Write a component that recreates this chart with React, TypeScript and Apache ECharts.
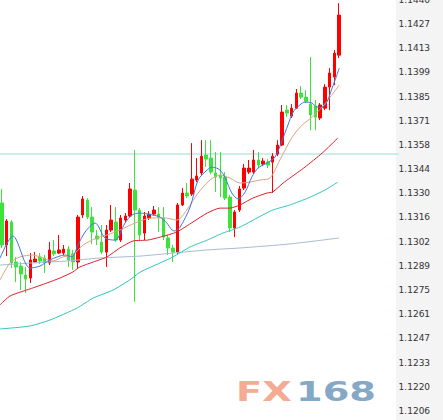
import React, { useEffect, useRef } from 'react';
import * as echarts from 'echarts';

const TICK_LABELS = ['1.1206','1.1220','1.1233','1.1247','1.1261','1.1275','1.1289','1.1302','1.1316','1.1330','1.1344','1.1358','1.1371','1.1385','1.1399','1.1413','1.1427','1.1440'];
const PRICE_MIN = 1.12061;
const PRICE_MAX = 1.14402;
const SLOT_COUNT = 84;
const PRICE_LINE = 1.13524;

const OPEN = [1.13245,1.13006,1.13137,1.12909,1.12886,1.12835,1.12818,1.12909,1.12938,1.12932,1.12904,1.12972,1.12960,1.12960,1.12983,1.12955,1.12909,1.13177,1.13262,1.13165,1.13057,1.13023,1.12966,1.13091,1.13137,1.13034,1.13148,1.13171,1.13319,1.13205,1.13074,1.13160,1.13182,1.13182,1.13160,1.13046,1.12989,1.12966,1.13234,1.13302,1.13296,1.13376,1.13416,1.13518,1.13501,1.13416,1.13404,1.13393,1.13279,1.13103,1.13205,1.13330,1.13421,1.13421,1.13490,1.13467,1.13478,1.13478,1.13524,1.13575,1.13774,1.13740,1.13785,1.13871,1.13848,1.13808,1.13797,1.13729,1.13785,1.13905,1.13962,1.14087];
const CLOSE = [1.13006,1.13143,1.12904,1.12881,1.12841,1.12812,1.12921,1.12926,1.12915,1.12904,1.12978,1.12955,1.12978,1.12983,1.12921,1.12909,1.13165,1.13268,1.13165,1.13080,1.13040,1.12966,1.13091,1.13148,1.13034,1.13160,1.13171,1.13325,1.13205,1.13063,1.13171,1.13182,1.13205,1.13165,1.13051,1.12989,1.12966,1.13234,1.13302,1.13285,1.13381,1.13399,1.13512,1.13495,1.13421,1.13393,1.13387,1.13273,1.13103,1.13194,1.13325,1.13444,1.13444,1.13490,1.13461,1.13484,1.13461,1.13512,1.13575,1.13763,1.13757,1.13785,1.13871,1.13848,1.13825,1.13746,1.13734,1.13803,1.13905,1.13985,1.14098,1.14315];
const LOW = [1.12989,1.12943,1.12875,1.12795,1.12750,1.12733,1.12790,1.12904,1.12898,1.12847,1.12892,1.12943,1.12955,1.12949,1.12881,1.12864,1.12875,1.13160,1.13154,1.13012,1.13006,1.12955,1.12881,1.13080,1.13023,1.13023,1.13137,1.13165,1.12682,1.13034,1.13034,1.13148,1.13177,1.13080,1.13034,1.12949,1.12909,1.12955,1.13228,1.13273,1.13285,1.13364,1.13404,1.13450,1.13410,1.13308,1.13279,1.13262,1.13080,1.13051,1.13194,1.13319,1.13410,1.13410,1.13444,1.13455,1.13444,1.13302,1.13512,1.13569,1.13734,1.13729,1.13780,1.13837,1.13814,1.13660,1.13660,1.13717,1.13774,1.13774,1.13916,1.14070];
const HIGH = [1.13325,1.13154,1.13148,1.12938,1.12909,1.12881,1.12960,1.12966,1.12960,1.12949,1.13023,1.13034,1.13063,1.13006,1.13000,1.12978,1.13177,1.13285,1.13273,1.13222,1.13091,1.13120,1.13120,1.13234,1.13222,1.13177,1.13188,1.13359,1.13547,1.13216,1.13194,1.13199,1.13228,1.13222,1.13222,1.13063,1.13006,1.13245,1.13330,1.13359,1.13586,1.13501,1.13603,1.13603,1.13603,1.13535,1.13535,1.13421,1.13290,1.13205,1.13342,1.13467,1.13490,1.13547,1.13535,1.13501,1.13495,1.13529,1.13603,1.13803,1.13803,1.13808,1.13894,1.13911,1.13888,1.14076,1.13831,1.13814,1.13922,1.14013,1.14116,1.14383];

// moving averages, [candle index, price]
const MA5 = [[-0.4,1.12932],[2.3,1.13057],[5.9,1.12875],[8,1.12886],[10.1,1.12921],[13.3,1.12949],[14.7,1.12938],[16,1.13006],[17.5,1.13080],[19.6,1.13131],[21.7,1.13046],[23.8,1.13034],[25.9,1.13131],[27.4,1.13177],[29,1.13188],[31.6,1.13177],[33.3,1.13165],[34.7,1.13131],[35.8,1.13091],[36.4,1.13086],[37.5,1.13108],[39.6,1.13222],[41.3,1.13376],[43.2,1.13433],[44.2,1.13450],[45.9,1.13433],[47,1.13387],[48.4,1.13302],[49.7,1.13268],[51.2,1.13308],[52.6,1.13393],[53.9,1.13444],[55.8,1.13473],[57.5,1.13507],[59,1.13603],[60.2,1.13689],[61.3,1.13763],[62.7,1.13803],[63.8,1.13820],[65.3,1.13814],[66.3,1.13791],[67.4,1.13791],[68.4,1.13820],[69.5,1.13899],[70.5,1.13973],[71,1.14013]];
const MA10 = [[-0.4,1.12807],[1.7,1.12904],[3.8,1.12938],[6.5,1.12949],[8.6,1.12932],[10.7,1.12915],[12.8,1.12938],[14.9,1.12949],[17.1,1.13006],[20,1.13046],[22.1,1.13063],[24.8,1.13091],[28,1.13131],[31.6,1.13160],[34.3,1.13160],[36.8,1.13148],[38.9,1.13205],[41.3,1.13302],[43.8,1.13376],[45.9,1.13404],[48,1.13387],[50.1,1.13359],[52.2,1.13364],[54.3,1.13376],[56.4,1.13387],[58.5,1.13490],[61.1,1.13620],[63.2,1.13689],[65.3,1.13734],[67.4,1.13791],[69.1,1.13848],[71,1.13916]];
const MA20 = [[-0.4,1.12665],[1.7,1.12716],[5.9,1.12756],[9.5,1.12790],[12.2,1.12818],[14.9,1.12852],[16.4,1.12881],[19.2,1.12909],[22.1,1.12938],[24.8,1.12989],[27.6,1.13029],[30.7,1.13034],[33.3,1.13051],[36.8,1.13080],[40.2,1.13137],[43.2,1.13188],[45.9,1.13216],[48,1.13216],[50.1,1.13234],[52.8,1.13273],[55.8,1.13302],[57,1.13308],[59.2,1.13359],[60.6,1.13387],[63.8,1.13450],[67.4,1.13529],[70.7,1.13615]];
const MA60 = [[-0.4,1.12528],[5.9,1.12545],[10.1,1.12579],[15.8,1.12647],[19.2,1.12704],[23.4,1.12750],[26.9,1.12807],[29.1,1.12852],[33.3,1.12904],[36,1.12938],[39.6,1.12995],[43.2,1.13034],[46.5,1.13074],[50.1,1.13108],[53.7,1.13160],[57,1.13205],[60.6,1.13234],[64.4,1.13273],[68,1.13319],[70.7,1.13364]];
const MA120 = [[-0.4,1.12892],[6.5,1.12904],[13.7,1.12915],[20.6,1.12932],[29.1,1.12943],[36,1.12960],[43.2,1.12978],[50.1,1.12989],[60.6,1.13012],[71,1.13046]];

const SLOTS = Array.from({ length: SLOT_COUNT }, (_, i) => String(i + 1));

export default function App() {
  const ref = useRef<HTMLDivElement>(null);
  useEffect(() => {
    if (!ref.current) return;
    const chart = echarts.init(ref.current, undefined, { renderer: 'svg' });
    const candles = OPEN.map((o, i) => [o, CLOSE[i], LOW[i], HIGH[i]]);
    const maLine = (data: number[][], color: string, smooth: number, width = 1) => ({
      type: 'line',
      xAxisIndex: 1,
      yAxisIndex: 0,
      data,
      symbol: 'none',
      showSymbol: false,
      smooth,
      lineStyle: { color, width },
      silent: true,
      z: 3,
    });
    chart.setOption({
      animation: false,
      backgroundColor: '#ffffff',
      grid: { left: -0.4, top: -0.2, width: 399, height: 411.2, outerBoundsMode: 'none', containLabel: false },
      xAxis: [
        { type: 'category', data: SLOTS, boundaryGap: true, show: false },
        { type: 'value', min: -0.5, max: SLOT_COUNT - 0.5, show: false },
      ],
      yAxis: [
        { type: 'value', min: PRICE_MIN, max: PRICE_MAX, show: false, position: 'right' },
        {
          type: 'value', min: 0, max: TICK_LABELS.length - 1, interval: 1, position: 'right',
          axisLine: { show: false }, axisTick: { show: false }, splitLine: { show: false },
          axisLabel: {
            margin: 0, showMinLabel: true, showMaxLabel: true,
            fontFamily: 'DejaVu Sans', fontSize: 9, color: '#333',
            formatter: (v: number) => TICK_LABELS[Math.round(v)] ?? '',
          },
        },
      ],
      graphic: [
        { type: 'rect', z: -10, silent: true, shape: { x: 396, y: 0, width: 47, height: 420 }, style: { fill: '#f4f4f4' } },
        { type: 'text', z: 1, silent: true, x: 236, y: 392, scaleX: 1.42, style: { text: 'FX', fill: '#f4ab93', font: 'bold 27px "DejaVu Sans"', verticalAlign: 'middle' } },
        { type: 'text', z: 1, silent: true, x: 296, y: 392, scaleX: 1.42, style: { text: '168', fill: '#84a8c6', font: 'bold 27px "DejaVu Sans"', verticalAlign: 'middle' } },
      ],
      series: [
        {
          type: 'line', xAxisIndex: 1, yAxisIndex: 0, symbol: 'none', silent: true, z: 1,
          data: [[-0.5, PRICE_LINE], [SLOT_COUNT - 0.5, PRICE_LINE]],
          lineStyle: { color: '#bfe5e5', width: 1.5 },
        },
        maLine(MA120, '#a7b9d3', 0.2),
        maLine(MA60, '#2ec3c3', 0.2),
        maLine(MA20, '#dc1f2a', 0.2),
        maLine(MA10, '#dba384', 0.3),
        maLine(MA5, '#3b78de', 0.3),
        {
          type: 'candlestick',
          xAxisIndex: 0,
          yAxisIndex: 0,
          data: candles,
          barWidth: 3,
          z: 2,
          itemStyle: {
            color: '#ff0000', color0: '#3be43b',
            borderColor: '#ff0000', borderColor0: '#3be43b', borderWidth: 1,
          },
        },
      ],
    });
    return () => chart.dispose();
  }, []);
  return <div ref={ref} style={{ position: 'absolute', left: 0, top: 0, width: 443, height: 420 }} />;
}
